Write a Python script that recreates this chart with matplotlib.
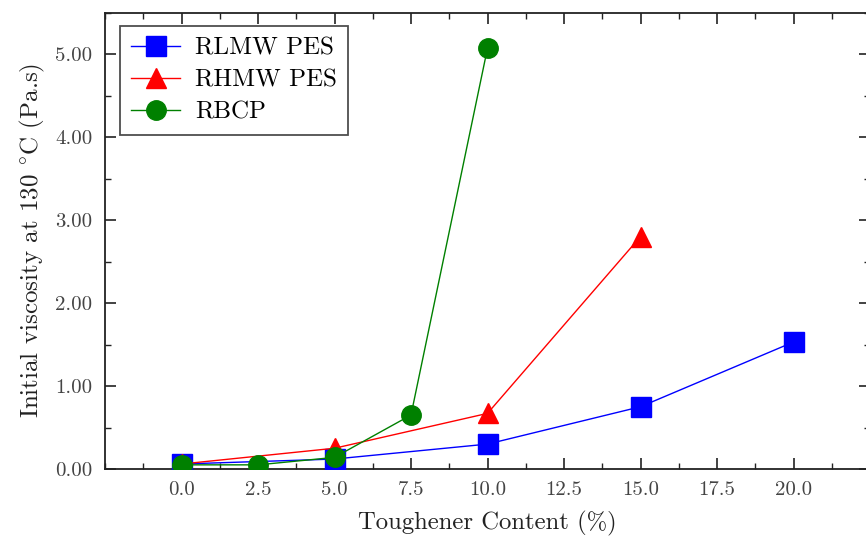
import matplotlib
matplotlib.use("Agg")
import matplotlib.pyplot as plt
from matplotlib.ticker import MultipleLocator, FixedLocator, FormatStrFormatter

plt.rcParams['font.family'] = 'serif'
plt.rcParams['font.serif'] = ['cmr10', 'DejaVu Serif']
plt.rcParams['mathtext.fontset'] = 'cm'
plt.rcParams['axes.unicode_minus'] = False

# Data
rlmw_x = [0, 5, 10, 15, 20]
rlmw_y = [0.06, 0.12, 0.30, 0.75, 1.53]
rhmw_x = [0, 5, 10, 15]
rhmw_y = [0.06, 0.25, 0.67, 2.80]
rbcp_x = [0, 2.5, 5, 7.5, 10]
rbcp_y = [0.05, 0.05, 0.14, 0.65, 5.07]

series_labels = ['RLMW PES', 'RHMW PES', 'RBCP']
xlabel = 'Toughener Content (%)'
ylabel = r'Initial viscosity at 130 $^{\circ}$C (Pa.s)'

fig = plt.figure(figsize=(8.66, 5.38), dpi=100)
ax = fig.add_axes([105/866, 1-469/538, (870-105)/866, (469-12.5)/538])

ax.plot(rlmw_x, rlmw_y, color='blue', lw=1.0, marker='s', ms=14, mec='blue', mfc='blue', label=series_labels[0], zorder=3)
ax.plot(rhmw_x, rhmw_y, color='red', lw=1.0, marker='^', ms=15, mec='red', mfc='red', label=series_labels[1], zorder=4)
ax.plot(rbcp_x, rbcp_y, color='green', lw=1.0, marker='o', ms=14, mec='green', mfc='green', label=series_labels[2], zorder=5)

ax.set_xlim(-2.5, 22.5)
ax.set_ylim(0, 5.5)
ax.xaxis.set_major_locator(FixedLocator([0, 2.5, 5, 7.5, 10, 12.5, 15, 17.5, 20]))
ax.xaxis.set_minor_locator(MultipleLocator(1.25))
ax.yaxis.set_major_locator(MultipleLocator(1.0))
ax.yaxis.set_minor_locator(MultipleLocator(0.5))
ax.xaxis.set_major_formatter(FormatStrFormatter('%.1f'))
ax.yaxis.set_major_formatter(FormatStrFormatter('%.2f'))

ax.tick_params(which='both', direction='in', top=True, right=True, colors='#222222', labelcolor='#444444')
ax.tick_params(which='major', length=8, width=1.2, labelsize=15, pad=9)
ax.tick_params(which='minor', length=4, width=1.0)
for s in ax.spines.values():
    s.set_linewidth(1.3)
    s.set_color('#222222')

ax.set_xlabel(xlabel, fontsize=17.8, color='#222222', labelpad=8)
ax.set_ylabel(ylabel, fontsize=18, color='#222222', labelpad=6)

leg = ax.legend(loc='upper left', fontsize=18, frameon=True, fancybox=False,
                edgecolor='#222222', borderpad=0.45, handlelength=1.95,
                handletextpad=0.6, labelspacing=0.38, borderaxespad=0,
                bbox_to_anchor=(15/765, 1-13.5/456.5))
leg.get_frame().set_linewidth(1.3)

fig.savefig('out.png', dpi=100)
